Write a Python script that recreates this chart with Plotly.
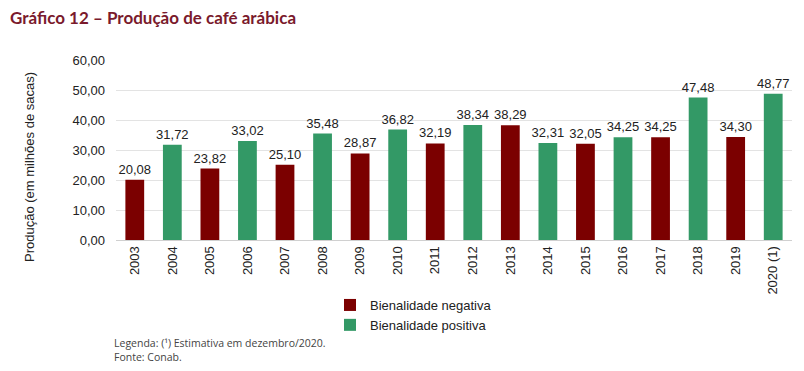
import plotly.graph_objects as go

years = ["2003", "2004", "2005", "2006", "2007", "2008", "2009", "2010", "2011",
         "2012", "2013", "2014", "2015", "2016", "2017", "2018", "2019", "2020 (1)"]
production = [20.08, 31.72, 23.82, 33.02, 25.10, 35.48, 28.87, 36.82, 32.19,
              38.34, 38.29, 32.31, 32.05, 34.25, 34.25, 47.48, 34.30, 48.77]
bienality = ["neg", "pos", "neg", "pos", "neg", "pos", "neg", "pos", "neg",
             "pos", "neg", "pos", "neg", "pos", "neg", "pos", "neg", "pos"]
y_ticks = [0, 10, 20, 30, 40, 50, 60]

RED = "#7B0000"
GREEN = "#339966"
FONT = "Liberation Sans, Arial, sans-serif"

# figure is drawn inside an 8px page margin, so size is 804-8 x 371-8
W, H = 796, 363
L, R, T, B = 108, 12, 52, 131
PW, PH = W - L - R, H - T - B


def fmt(v):
    return f"{v:.2f}".replace(".", ",")


def px_x(x):
    return (x - L) / PW


def px_y(y):
    return (H - B - y) / PH


fig = go.Figure()
for key, name, color in [("neg", "Bienalidade negativa", RED), ("pos", "Bienalidade positiva", GREEN)]:
    xs = [y for y, b in zip(years, bienality) if b == key]
    vs = [v for v, b in zip(production, bienality) if b == key]
    fig.add_trace(go.Bar(
        x=xs, y=vs, name=name, marker=dict(color=color, line=dict(width=0)),
        text=[fmt(v) for v in vs], textposition="outside", constraintext="none",
        textfont=dict(family=FONT, size=13, color="#222"),
        cliponaxis=False, width=0.5,
    ))

fig.update_layout(
    width=W, height=H,
    margin=dict(l=L, r=R, t=T, b=B, autoexpand=False),
    paper_bgcolor="white", plot_bgcolor="white",
    barmode="overlay",
    showlegend=True,
    legend=dict(x=px_x(322), y=px_y(282), xanchor="left", yanchor="top",
                font=dict(family=FONT, size=13, color="#222"),
                traceorder="normal", tracegroupgap=0, itemwidth=30),
    font=dict(family=FONT, size=13, color="#222"),
    annotations=[
        dict(text="<b>Gráfico 12 – Produção de café arábica</b>", x=px_x(1), y=px_y(10),
             xref="paper", yref="paper", showarrow=False, xanchor="left", yanchor="middle",
             borderpad=0,
             font=dict(family="Lato, sans-serif", size=17, color="#7A1A2C")),
        dict(text="Produção (em milhões de sacas)", x=px_x(21), y=px_y(159),
             xref="paper", yref="paper", showarrow=False, textangle=-90,
             xanchor="center", yanchor="middle",
             font=dict(family=FONT, size=13, color="#222")),
        dict(text="Legenda: (¹) Estimativa em dezembro/2020.<br>Fonte: Conab.",
             x=px_x(104), y=px_y(326), xref="paper", yref="paper",
             showarrow=False, xanchor="left", yanchor="top", align="left",
             font=dict(family="Open Sans, sans-serif", size=10.5, color="#444")),
    ],
)

fig.update_xaxes(
    type="category", categoryorder="array", categoryarray=years,
    tickangle=-90, showline=True, linecolor="#d0d0d0", linewidth=1,
    ticks="", tickfont=dict(family=FONT, size=13, color="#222"),
    showgrid=False, range=[-0.5, len(years) - 0.5], automargin=False,
)
fig.update_yaxes(
    range=[0, 60], tickvals=y_ticks, ticktext=[fmt(v) for v in y_ticks],
    showgrid=True, gridcolor="#e3e3e3", gridwidth=1, zeroline=False,
    tickfont=dict(family=FONT, size=13, color="#222"), ticks="", ticklen=0,
    ticklabelstandoff=10, automargin=False,
)

fig.write_html("out.html")
